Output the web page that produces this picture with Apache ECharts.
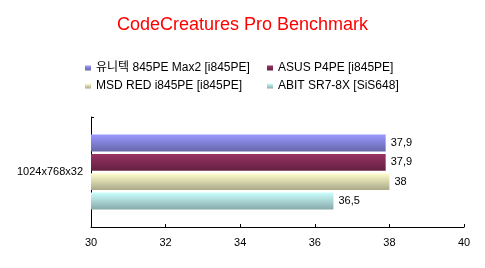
<!DOCTYPE html>
<html><head><meta charset="utf-8">
<script src="https://cdn.jsdelivr.net/npm/echarts@6/dist/echarts.min.js"></script>
<style>html,body{margin:0;padding:0;background:#fff}#c{width:485px;height:268px}</style>
</head><body><div id="c"></div>
<script>
const categories = ['1024x768x32'];
const seriesNames = ['유니텍 845PE Max2 [i845PE]', 'ASUS P4PE [i845PE]', 'MSD RED i845PE [i845PE]', 'ABIT SR7-8X [SiS648]'];
const values_unitech = [37.9];
const values_asus = [37.9];
const values_msd = [38];
const values_abit = [36.5];
const xTicks = [30, 32, 34, 36, 38, 40];

const FONT = "'Liberation Sans', 'Noto Sans CJK KR', sans-serif";
const grads = [
  ['#9999ff', '#6767aa'],
  ['#993366', '#64203f'],
  ['#ffffcc', '#aaa888'],
  ['#ccffff', '#88aaaa']
];
const seriesValues = [values_unitech, values_asus, values_msd, values_abit];
function grad(c) {
  return new echarts.graphic.LinearGradient(0, 0, 0, 1, [{offset: 0, color: c[0]}, {offset: 1, color: c[1]}]);
}
const chart = echarts.init(document.getElementById('c'), null, {renderer: 'canvas'});
chart.setOption({
  animation: false,
  backgroundColor: '#fff',
  title: {
    text: 'CodeCreatures Pro Benchmark',
    left: 'center', top: 11,
    textStyle: {color: '#ff0000', fontSize: 18, fontWeight: 'normal', fontFamily: FONT}
  },
  legend: [
    {
      data: [seriesNames[0], seriesNames[2]], orient: 'vertical', left: 80, top: 56,
      icon: 'rect', itemWidth: 6, itemHeight: 5, itemGap: 4,
      textStyle: {fontSize: 12, color: '#000', fontFamily: FONT, lineHeight: 14}
    },
    {
      data: [seriesNames[1], seriesNames[3]], orient: 'vertical', left: 262, top: 56,
      icon: 'rect', itemWidth: 6, itemHeight: 5, itemGap: 4,
      textStyle: {fontSize: 12, color: '#000', fontFamily: FONT, lineHeight: 14}
    }
  ],
  grid: {left: 91, right: 21, top: 117, bottom: 41, containLabel: false},
  xAxis: {
    type: 'value', min: xTicks[0], max: xTicks[xTicks.length - 1], interval: 2,
    axisLine: {show: true, lineStyle: {color: '#000', width: 1}},
    axisTick: {show: true, inside: true, length: 3, lineStyle: {color: '#000'}},
    splitLine: {show: false},
    axisLabel: {color: '#000', fontSize: 11, fontFamily: FONT, margin: 10}
  },
  yAxis: {
    type: 'category', data: categories, inverse: true,
    axisLine: {show: true, lineStyle: {color: '#000', width: 1}},
    axisTick: {show: true, inside: true, length: 3, lineStyle: {color: '#000'}},
    axisLabel: {color: '#000', fontSize: 11, fontFamily: FONT, margin: 8}
  },
  series: seriesNames.map((n, i) => ({
    name: n, type: 'bar', data: seriesValues[i],
    barGap: '14%', barCategoryGap: '32%',
    itemStyle: {color: grad(grads[i])},
    label: {
      show: true, position: 'right', distance: 5, color: '#000', fontSize: 11, fontFamily: FONT,
      formatter: p => String(p.value).replace('.', ',')
    }
  }))
});
</script></body></html>
